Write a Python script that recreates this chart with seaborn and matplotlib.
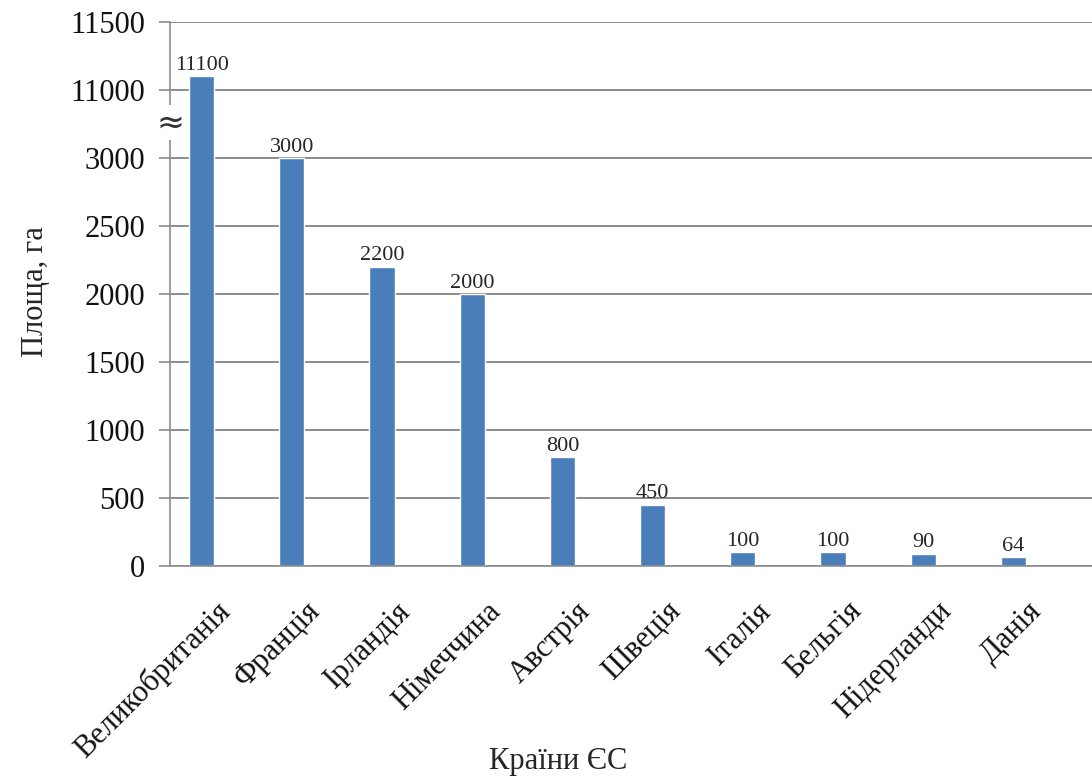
import matplotlib
matplotlib.use("Agg")
import matplotlib.pyplot as plt
import seaborn as sns

# Дані: площа, га, за країнами ЄС
countries = ["Великобританія", "Франція", "Ірландія", "Німеччина", "Австрія",
             "Швеція", "Італія", "Бельгія", "Нідерланди", "Данія"]
areas = [11100, 3000, 2200, 2000, 800, 450, 100, 100, 90, 64]

# розрив осі: усе вище 3000 зсуваємо вниз на 7500
break_shift = 7500
plot_vals = [v if v <= 3000 else v - break_shift for v in areas]
ytick_pos = [0, 500, 1000, 1500, 2000, 2500, 3000, 3500, 4000]
ytick_labels = ["0", "500", "1000", "1500", "2000", "2500", "3000", "11000", "11500"]

sns.set_style("white")
plt.rcParams["font.family"] = ["Liberation Serif", "DejaVu Serif"]

fig = plt.figure(figsize=(10.92, 7.84), dpi=100)
ax = fig.add_axes([170 / 1092, (784 - 566) / 784, (1092 - 170) / 1092, (566 - 22) / 784])

sns.barplot(x=countries, y=plot_vals, color="#4a7ebb", width=0.28, saturation=1, ax=ax)

# стовпчики трохи ліворуч від центру категорії, як у вихідному графіку
for p in ax.patches:
    p.set_x(p.get_x() - 0.15)

ax.set_ylim(0, 4000)
ax.set_xlim(-0.5, 9.72)
ax.set_yticks(ytick_pos)
ax.set_yticklabels(ytick_labels, fontsize=22, color="#111111")
ax.yaxis.grid(True, color="#8c8c8c", linewidth=1.4)
ax.set_axisbelow(True)

# підписи категорій та поділки між ними
ax.set_xticks(range(len(countries)))
ax.set_xticklabels(countries, rotation=45, ha="right", rotation_mode="anchor",
                   fontsize=22, color="#111111")
ax.set_xticks([i - 0.5 for i in range(len(countries) + 1)], minor=True)
ax.tick_params(axis="x", which="major", length=0, pad=22)
ax.tick_params(axis="x", which="minor", length=8, color="#8c8c8c", width=1.2, direction="out")
ax.tick_params(axis="y", length=8, color="#8c8c8c", width=1.2, direction="out", left=True, pad=10)

for s in ["top", "right"]:
    ax.spines[s].set_visible(False)
for s in ["left", "bottom"]:
    ax.spines[s].set_color("#8c8c8c")
    ax.spines[s].set_linewidth(1.2)

ax.bar_label(ax.containers[0], labels=[str(v) for v in areas], padding=1, fontsize=16)

# значок розриву осі
ax.text(-0.5, 3260, "≈", ha="center", va="center", fontsize=24, color="#333333",
        family="DejaVu Sans", clip_on=False,
        bbox=dict(facecolor="white", edgecolor="none", pad=0.5))

ax.set_xlabel("")
ax.set_ylabel("")
fig.text(36 / 1092, 1 - 292 / 784, "Площа, га", rotation=90, ha="center", va="center", fontsize=22)
fig.text(558 / 1092, 1 - 762 / 784, "Країни ЄС", ha="center", va="center", fontsize=22)

fig.savefig("out.png", dpi=100)
